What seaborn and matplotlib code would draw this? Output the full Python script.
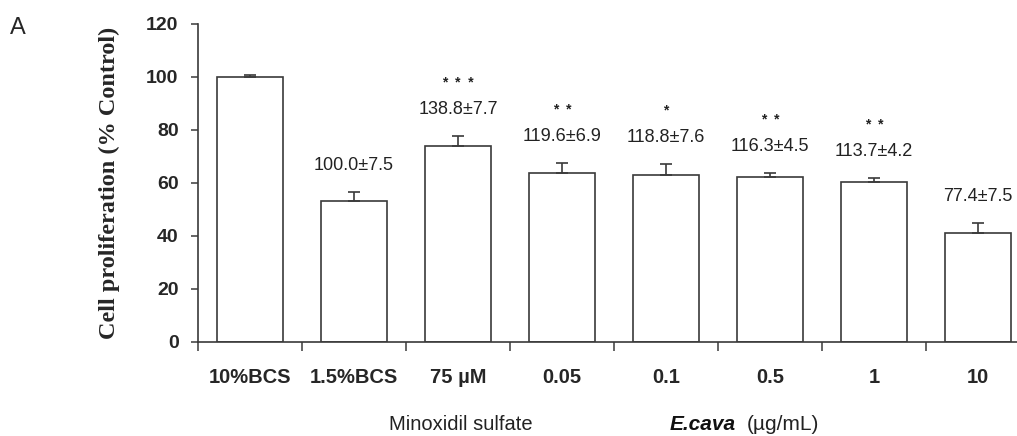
import numpy as np
import pandas as pd
import seaborn as sns
import matplotlib.pyplot as plt

groups = ['10%BCS', '1.5%BCS', '75 µM', '0.05', '0.1', '0.5', '1', '10']
proliferation = [100.0, 53.2, 74.0, 63.8, 63.2, 62.2, 60.5, 41.1]
sem = [0.6, 3.4, 3.7, 3.6, 4.0, 1.6, 1.5, 3.9]
value_labels = ['', '100.0±7.5', '138.8±7.7', '119.6±6.9', '118.8±7.6',
                '116.3±4.5', '113.7±4.2', '77.4±7.5']
stars = ['', '', '*  *  *', '*  *', '*', '*  *', '*  *', '']

sns.set_style('white')
sans = 'Liberation Sans'
serif = 'Liberation Serif'
plt.rcParams['font.family'] = [sans, 'DejaVu Sans']

edge = '#3a3a3a'
df = pd.DataFrame({'group': groups, 'value': proliferation})

fig = plt.figure(figsize=(10.17, 4.36), dpi=100)
ax = fig.add_axes([0.1947, 0.2156, 0.818, 0.7294])

sns.barplot(data=df, x='group', y='value', color='white', edgecolor=edge,
            linewidth=1.2, width=0.63, errorbar=None, saturation=1, ax=ax)
xs = np.arange(len(groups))
ax.errorbar(xs, proliferation, yerr=[np.zeros(len(sem)), sem], fmt='none',
            ecolor=edge, elinewidth=1.2, capsize=4, capthick=1.2)

ax.set_ylim(0, 120)
ax.set_xlim(-0.5, len(groups) - 0.5)
ax.set_yticks(range(0, 121, 20))
ax.set_yticklabels([str(v) for v in range(0, 121, 20)],
                   fontweight='bold', fontsize=14)
ax.set_xticks(xs)
ax.set_xticklabels(groups, fontweight='bold', fontsize=14.5)
ax.set_xticks(np.arange(-0.5, len(groups), 1), minor=True)
ax.tick_params(axis='x', which='major', length=0, pad=19)
ax.tick_params(axis='x', which='minor', length=6.5, width=1.1, color=edge,
               direction='out', bottom=True)
ax.tick_params(axis='y', length=5, width=1.1, color=edge, direction='out',
               left=True, pad=9)
ax.set_xlabel('')
ax.set_ylabel('Cell proliferation (% Control)', fontfamily=serif,
              fontweight='bold', fontsize=17.5, labelpad=19)

for side in ['top', 'right']:
    ax.spines[side].set_visible(False)
for side in ['left', 'bottom']:
    ax.spines[side].set_color(edge)
    ax.spines[side].set_linewidth(1.2)

for i, (v, e) in enumerate(zip(proliferation, sem)):
    if value_labels[i]:
        ax.text(i, v + e + 10, value_labels[i], ha='center', va='center',
                fontsize=13, color='#222222')
    if stars[i]:
        ax.text(i, v + e + 20, stars[i], ha='center', va='center',
                fontweight='bold', fontsize=10, color='#222222')

fig.text(0.01, 0.962, 'A', ha='left', va='top', fontsize=17)
fig.text(0.453, 0.014, 'Minoxidil sulfate', ha='center', va='baseline',
         fontsize=14.5, color='#222222')
fig.text(0.658, 0.014, 'E.cava', ha='left', va='baseline', fontsize=15,
         fontweight='bold', fontstyle='italic', color='#111111')
fig.text(0.7345, 0.014, '(µg/mL)', ha='left', va='baseline', fontsize=15,
         color='#222222')

fig.savefig('out.png', dpi=100)
